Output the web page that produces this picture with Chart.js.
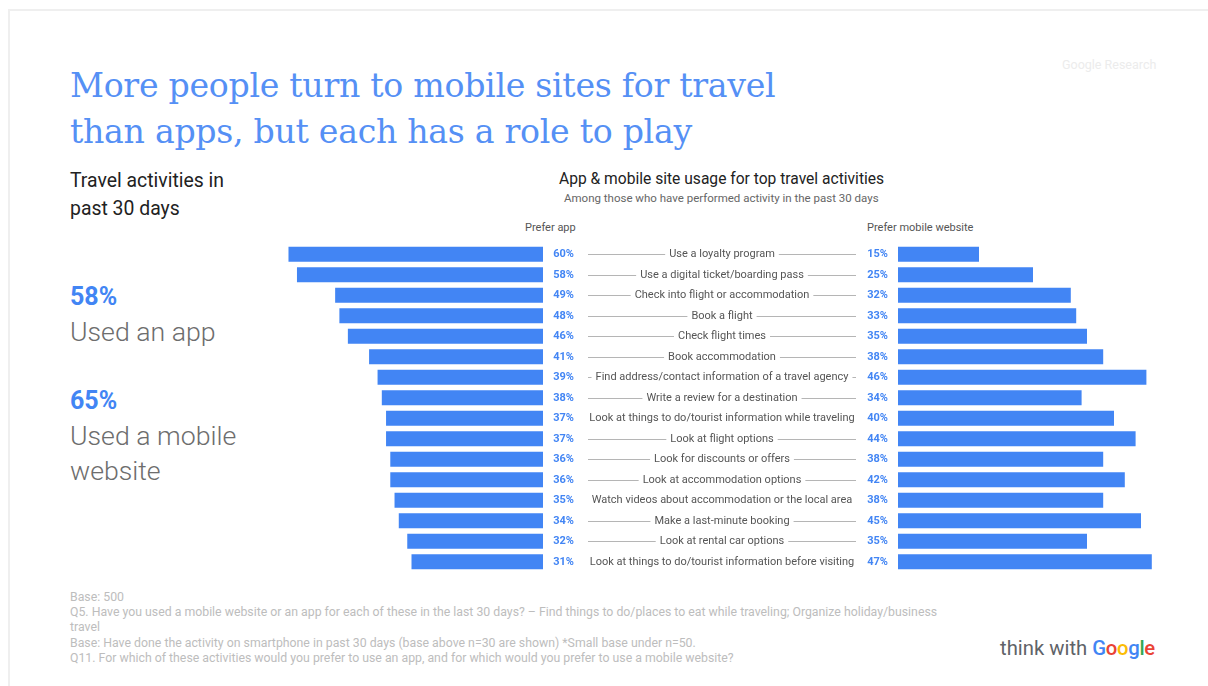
<!DOCTYPE html>
<html>
<head>
<meta charset="utf-8">
<script src="https://cdn.jsdelivr.net/npm/chart.js@4/dist/chart.umd.min.js"></script>
<style>
  html, body { margin: 0; padding: 0; background: #fff; }
  body { width: 1208px; height: 686px; position: relative; overflow: hidden; font-family: Roboto, "Noto Sans", sans-serif; }
  .frame { position: absolute; left: 8px; top: 9px; width: 1300px; height: 800px; border: 2px solid #efefef; box-sizing: border-box; }
  .abs { position: absolute; white-space: nowrap; }
  .title { left: 70px; top: 63px; font-family: "DejaVu Serif", serif; font-weight: 300; font-size: 33.2px; line-height: 46px; color: #5590f5; letter-spacing: -0.3px; }
  .sub { left: 70px; top: 167px; font-size: 19.4px; line-height: 28px; color: #222; }
  .big { left: 70px; font-size: 25px; font-weight: 700; color: #4285F4; line-height: 30px; }
  .used { left: 70px; font-size: 26.7px; font-weight: 300; color: #6d6d6d; line-height: 35px; }
  .ctitle { left: 559px; top: 170px; font-size: 15.6px; color: #222; }
  .csub { left: 564px; top: 191px; font-size: 11.5px; color: #666; }
  .head { top: 221px; font-size: 11px; color: #555; }
  .foot { left: 70px; top: 590px; font-size: 12.3px; line-height: 15.2px; color: #bdbdbd; }
  .gr { left: 1062px; top: 57px; font-size: 12.5px; color: #ececec; }
  .logo { left: 1000px; top: 636px; font-size: 20.3px; color: #5f6368; }
  canvas { position: absolute; }
</style>
</head>
<body>
<div class="frame"></div>
<div class="abs title">More people turn to mobile sites for travel<br>than apps, but each has a role to play</div>
<div class="abs gr">Google Research</div>
<div class="abs sub">Travel activities in<br>past 30 days</div>
<div class="abs big" style="top:282px">58%</div>
<div class="abs used" style="top:315px">Used an app</div>
<div class="abs big" style="top:386px">65%</div>
<div class="abs used" style="top:419px">Used a mobile<br>website</div>
<div class="abs ctitle">App &amp; mobile site usage for top travel activities</div>
<div class="abs csub">Among those who have performed activity in the past 30 days</div>
<div class="abs head" style="left:525px">Prefer app</div>
<div class="abs head" style="left:867px">Prefer mobile website</div>
<div class="abs foot">Base: 500<br>Q5. Have you used a mobile website or an app for each of these in the last 30 days? – Find things to do/places to eat while traveling; Organize holiday/business<br>travel<br>Base: Have done the activity on smartphone in past 30 days (base above n=30 are shown) *Small base under n=50.<br>Q11. For which of these activities would you prefer to use an app, and for which would you prefer to use a mobile website?</div>
<div class="abs logo">think with <span style="font-weight:500;letter-spacing:-0.3px"><span style="color:#4285F4">G</span><span style="color:#EA4335">o</span><span style="color:#FBBC05">o</span><span style="color:#4285F4">g</span><span style="color:#34A853">l</span><span style="color:#EA4335">e</span></span></div>

<canvas id="left" width="600" height="328" style="left:280px;top:244px;width:600px;height:328px"></canvas>
<canvas id="right" width="312" height="328" style="left:856px;top:244px;width:312px;height:328px"></canvas>

<script>
const activities = [
  "Use a loyalty program",
  "Use a digital ticket/boarding pass",
  "Check into flight or accommodation",
  "Book a flight",
  "Check flight times",
  "Book accommodation",
  "Find address/contact information of a travel agency",
  "Write a review for a destination",
  "Look at things to do/tourist information while traveling",
  "Look at flight options",
  "Look for discounts or offers",
  "Look at accommodation options",
  "Watch videos about accommodation or the local area",
  "Make a last-minute booking",
  "Look at rental car options",
  "Look at things to do/tourist information before visiting"
];
const preferApp = [60, 58, 49, 48, 46, 41, 39, 38, 37, 37, 36, 36, 35, 34, 32, 31];
const preferMobileWebsite = [15, 25, 32, 33, 35, 38, 46, 34, 40, 44, 38, 42, 38, 45, 35, 47];

const BLUE = '#4285F4';

const leftLabels = {
  id: 'leftLabels',
  afterDatasetsDraw(chart) {
    const ctx = chart.ctx;
    const area = chart.chartArea;
    const meta = chart.getDatasetMeta(0);
    ctx.save();
    ctx.textBaseline = 'middle';
    meta.data.forEach((el, i) => {
      const y = el.y;
      ctx.font = 'bold 11px Roboto, sans-serif';
      ctx.fillStyle = BLUE;
      ctx.textAlign = 'right';
      ctx.fillText(preferApp[i] + '%', area.right + 31, y);
      ctx.font = '11px Roboto, sans-serif';
      ctx.fillStyle = '#555';
      ctx.textAlign = 'center';
      const cx = area.right + 179;
      ctx.fillText(activities[i], cx, y);
      const w = ctx.measureText(activities[i]).width;
      const l0 = area.right + 45, r1 = area.right + 313;
      const l1 = cx - w / 2 - 4, r0 = cx + w / 2 + 4;
      ctx.strokeStyle = '#b5b5b5';
      ctx.lineWidth = 1;
      if (l1 - l0 > 2) {
        ctx.beginPath();
        ctx.moveTo(l0, Math.round(y) + 0.5); ctx.lineTo(l1, Math.round(y) + 0.5);
        ctx.moveTo(r0, Math.round(y) + 0.5); ctx.lineTo(r1, Math.round(y) + 0.5);
        ctx.stroke();
      }
    });
    ctx.restore();
  }
};

const rightLabels = {
  id: 'rightLabels',
  afterDatasetsDraw(chart) {
    const ctx = chart.ctx;
    const area = chart.chartArea;
    const meta = chart.getDatasetMeta(0);
    ctx.save();
    ctx.textBaseline = 'middle';
    ctx.font = 'bold 11px Roboto, sans-serif';
    ctx.fillStyle = BLUE;
    ctx.textAlign = 'right';
    meta.data.forEach((el, i) => {
      ctx.fillText(preferMobileWebsite[i] + '%', area.left - 10, el.y);
    });
    ctx.restore();
  }
};

function baseOptions(max, reverse, padding) {
  return {
    indexAxis: 'y',
    responsive: false,
    animation: false,
    layout: { padding },
    plugins: { legend: { display: false }, tooltip: { enabled: false } },
    scales: {
      x: { display: false, min: 0, max, reverse, grid: { display: false } },
      y: { display: false, grid: { display: false } }
    }
  };
}

new Chart(document.getElementById('left'), {
  type: 'bar',
  data: {
    labels: activities,
    datasets: [{ data: preferApp, backgroundColor: BLUE, borderWidth: 0, categoryPercentage: 0.72, barPercentage: 1 }]
  },
  options: baseOptions(62, true, { left: 0, right: 337, top: 0, bottom: 0 }),
  plugins: [leftLabels]
});

new Chart(document.getElementById('right'), {
  type: 'bar',
  data: {
    labels: activities,
    datasets: [{ data: preferMobileWebsite, backgroundColor: BLUE, borderWidth: 0, categoryPercentage: 0.72, barPercentage: 1 }]
  },
  options: baseOptions(50, false, { left: 42, right: 0, top: 0, bottom: 0 }),
  plugins: [rightLabels]
});
</script>
</body>
</html>
